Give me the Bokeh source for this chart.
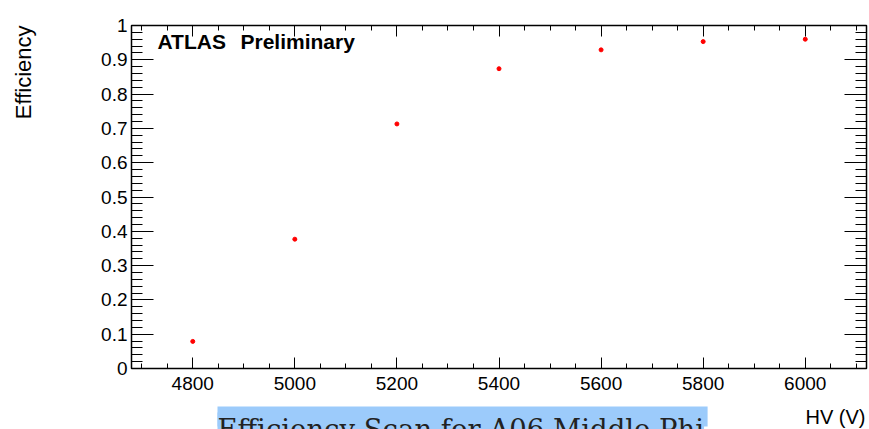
from bokeh.plotting import figure
from bokeh.models import LinearAxis, FixedTicker, Range1d, Label, Title
from bokeh.embed import file_html
from bokeh.resources import INLINE

# HV scan points and measured efficiency
hv = [4800, 5000, 5200, 5400, 5600, 5800, 6000]
efficiency = [0.079, 0.377, 0.713, 0.874, 0.929, 0.953, 0.960]

x_ticks = [4800, 5000, 5200, 5400, 5600, 5800, 6000]
x_minor = [4700, 4750, 4850, 4900, 4950, 5050, 5100, 5150, 5250, 5300, 5350,
           5450, 5500, 5550, 5650, 5700, 5750, 5850, 5900, 5950, 6050, 6100]
y_ticks = [0, 0.1, 0.2, 0.3, 0.4, 0.5, 0.6, 0.7, 0.8, 0.9, 1]
y_tick_labels = ["0", "0.1", "0.2", "0.3", "0.4", "0.5", "0.6", "0.7", "0.8", "0.9", "1"]
y_minor = [round(0.02 * i, 2) for i in range(51)]

FONT = "Liberation Sans"
HIGHLIGHT = "#9ccbfb"

p = figure(width=869, height=429, output_backend="svg", toolbar_location=None,
           x_range=Range1d(4680, 6120), y_range=Range1d(0, 1),
           min_border_left=131, min_border_right=3, min_border_top=25, min_border_bottom=61,
           background_fill_color="white", border_fill_color="white",
           x_axis_type=None, y_axis_type=None)
p.grid.visible = False
p.outline_line_color = "black"
p.outline_line_width = 1.5

xt = FixedTicker(ticks=x_ticks, minor_ticks=x_minor)
yt = FixedTicker(ticks=y_ticks, minor_ticks=y_minor)


def style(ax, major, minor, labels=True):
    ax.axis_line_color = "black"
    ax.major_tick_line_color = "black"
    ax.minor_tick_line_color = "black"
    ax.major_tick_in = major
    ax.major_tick_out = 0
    ax.minor_tick_in = minor
    ax.minor_tick_out = 0
    ax.major_label_text_font = FONT
    ax.major_label_text_font_size = "19px" if labels else "0px"
    ax.major_label_text_color = "black"
    if not labels:
        ax.major_label_standoff = 0


bottom = LinearAxis(ticker=xt)
style(bottom, 11, 5)
bottom.major_label_standoff = 8
p.add_layout(bottom, "below")

left = LinearAxis(ticker=yt, major_label_overrides=dict(zip(y_ticks, y_tick_labels)))
style(left, 22, 11)
left.major_label_standoff = 4
p.add_layout(left, "left")

top = LinearAxis(ticker=xt)
style(top, 11, 5, labels=False)
p.add_layout(top, "above")

right = LinearAxis(ticker=yt)
style(right, 22, 11, labels=False)
p.add_layout(right, "right")

p.scatter(hv, efficiency, marker="circle", size=4, fill_color="red", line_color="red")

# ATLAS tag inside the frame
p.add_layout(Label(x=26, y=316, x_units="screen", y_units="screen",
                   text="ATLAS", text_font=FONT, text_font_style="bold",
                   text_font_size="21px", text_color="black"))
p.add_layout(Label(x=109, y=316, x_units="screen", y_units="screen",
                   text="Preliminary", text_font=FONT, text_font_style="bold",
                   text_font_size="21px", text_color="black"))

# x-axis title, anchored at the right end of the plot
p.add_layout(Label(x=827, y=-48, x_units="screen", y_units="screen",
                   text="HV (V)", text_align="right", text_baseline="alphabetic",
                   text_font=FONT, text_font_size="20px", text_color="black"), "left")

# y-axis title, aligned with the top of the axis
p.add_layout(Title(text="Efficiency", align="right", standoff=5,
                   text_font=FONT, text_font_size="22px", text_font_style="normal",
                   text_color="black"), "left")

# upper part of the caption's highlight band
p.add_layout(Label(x=86, y=-381, x_units="screen", y_units="screen",
                   text="\u00a0" * 98, text_align="left", text_baseline="top",
                   text_font=FONT, text_font_size="18px",
                   background_fill_color=HIGHLIGHT, padding=0), "above")

# highlighted caption below the plot
p.add_layout(Label(x=86, y=12, x_units="screen", y_units="screen",
                   text="Efficiency Scan for A06 Middle Phi", text_align="left",
                   text_baseline="top", text_font="DejaVu Serif", text_font_size="27.5px",
                   text_color="#222222", background_fill_color=HIGHLIGHT,
                   padding=0), "below")

open("out.html", "w").write(file_html(p, INLINE))
